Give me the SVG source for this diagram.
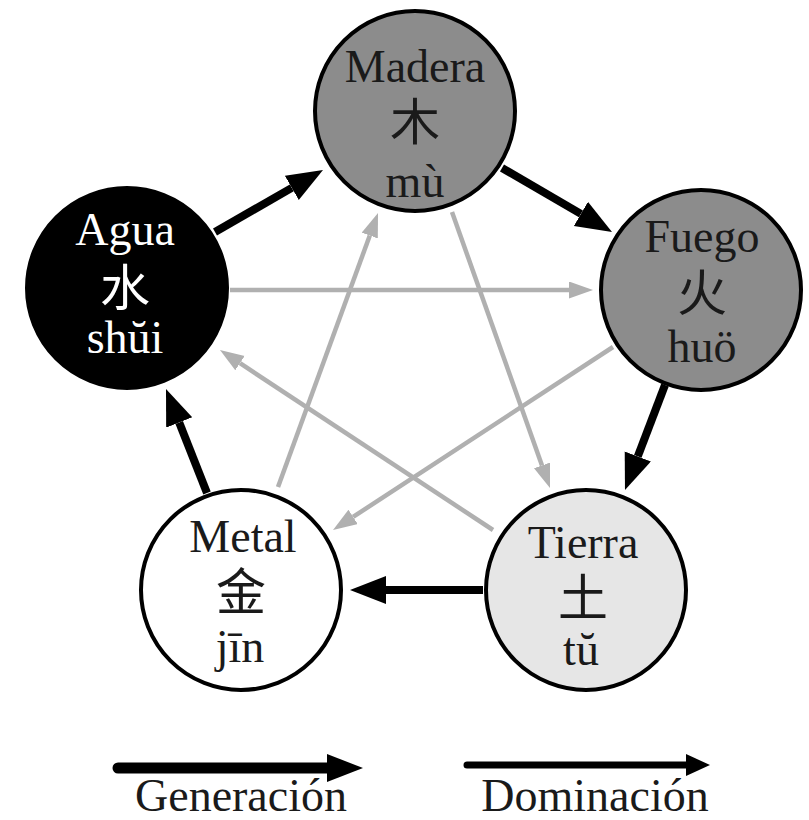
<svg xmlns="http://www.w3.org/2000/svg" width="809" height="820" viewBox="0 0 809 820">
<style>
.bg{fill:#ffffff}
.node{stroke:#000;stroke-width:4}
.lbl{font-family:"Liberation Serif","Times New Roman",serif;font-size:46px;text-anchor:middle;fill:#1a1a1a}
.cjk{font-family:"Noto Sans CJK SC","Noto Sans CJK JP",sans-serif;font-size:50px;text-anchor:middle;fill:#1a1a1a}
.w{fill:#ffffff}
.gen{stroke:#000;stroke-width:8;fill:none}
.dom{stroke:#b0b0b0;stroke-width:4.5;fill:none}
</style>
<defs>
<marker id="mGen" markerUnits="userSpaceOnUse" markerWidth="40" markerHeight="30" refX="0" refY="14" orient="auto" viewBox="0 0 40 30">
<path d="M0,0 L36,14 L0,28 z" fill="#000"/>
</marker>
<marker id="mDom" markerUnits="userSpaceOnUse" markerWidth="26" markerHeight="18" refX="0" refY="8.5" orient="auto" viewBox="0 0 26 18">
<path d="M0,0 L24,8.5 L0,17 z" fill="#b0b0b0"/>
</marker>
<marker id="mLegG" markerUnits="userSpaceOnUse" markerWidth="40" markerHeight="30" refX="0" refY="14" orient="auto" viewBox="0 0 40 30">
<path d="M0,0 L36,14 L0,28 z" fill="#000"/>
</marker>
<marker id="mLegD" markerUnits="userSpaceOnUse" markerWidth="26" markerHeight="24" refX="0" refY="11" orient="auto" viewBox="0 0 26 24">
<path d="M0,0 L24,11 L0,22 z" fill="#000"/>
</marker>
</defs>
<rect class="bg" x="0" y="0" width="809" height="820"/>
<g id="connectors">
<line class="dom" x1="230" y1="290" x2="569" y2="290" marker-end="url(#mDom)"/>
<line class="dom" x1="452" y1="212" x2="542" y2="465.4" marker-end="url(#mDom)"/>
<line class="dom" x1="493" y1="530" x2="240" y2="363.2" marker-end="url(#mDom)"/>
<line class="dom" x1="613" y1="347" x2="353.1" y2="516.9" marker-end="url(#mDom)"/>
<line class="dom" x1="278" y1="487" x2="369.8" y2="235.5" marker-end="url(#mDom)"/>
<line class="gen" x1="215" y1="232" x2="291.8" y2="187.9" marker-end="url(#mGen)"/>
<line class="gen" x1="502" y1="168" x2="580.9" y2="213.9" marker-end="url(#mGen)"/>
<line class="gen" x1="665" y1="385" x2="637.8" y2="456.4" marker-end="url(#mGen)"/>
<line class="gen" x1="483" y1="590" x2="386" y2="590" marker-end="url(#mGen)"/>
<line class="gen" x1="207" y1="493" x2="179.2" y2="422.5" marker-end="url(#mGen)"/>
</g>
<g id="madera">
<circle class="node" cx="415" cy="111" r="100" fill="#8c8c8c"/>
<text class="lbl" x="415" y="82">Madera</text>
<text class="cjk" x="415" y="140">木</text>
<text class="lbl" x="415" y="197">mù</text>
</g>
<g id="fuego">
<circle class="node" cx="701" cy="290" r="100" fill="#8c8c8c"/>
<text class="lbl" x="702" y="252">Fuego</text>
<text class="cjk" x="702" y="311">火</text>
<text class="lbl" x="702" y="362">huö</text>
</g>
<g id="agua">
<circle class="node" cx="127" cy="288" r="100" fill="#000"/>
<text class="lbl w" x="125" y="245">Agua</text>
<text class="cjk w" x="125" y="306">水</text>
<text class="lbl w" x="125" y="353">shŭi</text>
</g>
<g id="metal">
<circle class="node" cx="241" cy="590" r="100" fill="#ffffff"/>
<text class="lbl" x="243" y="552">Metal</text>
<text class="cjk" x="241" y="610">金</text>
<text class="lbl" x="240" y="662">jīn</text>
</g>
<g id="tierra">
<circle class="node" cx="586" cy="590" r="100" fill="#e6e6e6"/>
<text class="lbl" x="583" y="558">Tierra</text>
<text class="cjk" x="583" y="616">土</text>
<text class="lbl" x="581" y="665">tŭ</text>
</g>
<g id="legend">
<line x1="118" y1="768" x2="327" y2="768" stroke="#000" stroke-width="11" stroke-linecap="round" marker-end="url(#mLegG)"/>
<text class="lbl" x="241" y="811">Generación</text>
<line x1="467" y1="765" x2="686" y2="765" stroke="#000" stroke-width="7" stroke-linecap="round" marker-end="url(#mLegD)"/>
<text class="lbl" x="595" y="811">Dominación</text>
</g>
</svg>
